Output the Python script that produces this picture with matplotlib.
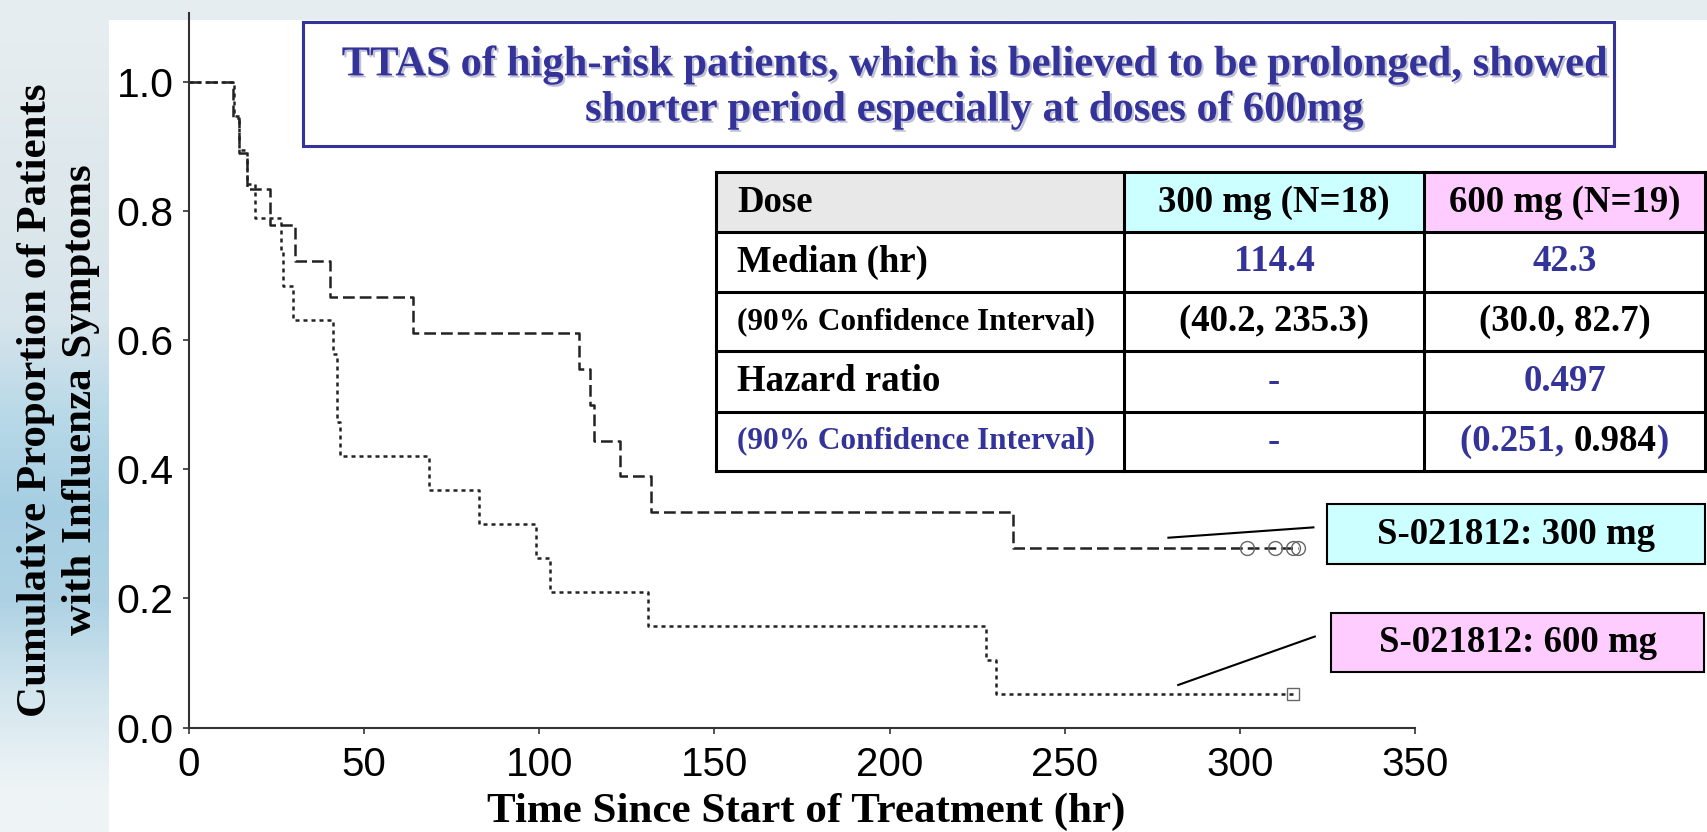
import numpy as np
import matplotlib
matplotlib.use("Agg")
import matplotlib.pyplot as plt
import matplotlib.patheffects as pe
from matplotlib.patches import Rectangle

W, H = 1708, 832
BLUE = "#333399"
SERIF = ["Liberation Serif", "DejaVu Serif"]
SANS = ["Liberation Sans", "DejaVu Sans"]

# 300 mg arm (N=18): step times [hr] and patients still symptomatic
t300 = [0, 12.7, 14.4, 16.5, 23.1, 30.3, 40.2, 64.0, 111.2, 114.4, 115.6,
        122.9, 131.8, 235.3, 316.7]
n300 = [18, 17, 16, 15, 14, 13, 12, 11, 10, 9, 8, 7, 6, 5, 5]
cens300 = [302.0, 310.0, 315.3, 316.7]

# 600 mg arm (N=19)
t600 = [0, 12.9, 14.4, 16.5, 18.8, 26.2, 26.7, 29.8, 41.2, 42.3, 42.3, 43.1,
        68.5, 82.7, 99.2, 103.2, 131.1, 227.5, 230.4, 315.3]
n600 = [19, 18, 17, 16, 15, 14, 13, 12, 11, 10, 9, 8, 7, 6, 5, 4, 3, 2, 1, 1]
cens600 = [315.3]

xticks = [0, 50, 100, 150, 200, 250, 300, 350]
yticks = [0.0, 0.2, 0.4, 0.6, 0.8, 1.0]

note = ("TTAS of high-risk patients, which is believed to be prolonged, showed\n"
        "shorter period especially at doses of 600mg")

tbl_rows = [
    ["Dose", "300 mg (N=18)", "600 mg (N=19)"],
    ["Median (hr)", "114.4", "42.3"],
    ["(90% Confidence Interval)", "(40.2, 235.3)", "(30.0, 82.7)"],
    ["Hazard ratio", "-", "0.497"],
    ["(90% Confidence Interval)", "-", None],
]
tbl_colors = [
    ["black", "black", "black"],
    ["black", BLUE, BLUE],
    ["black", "black", "black"],
    ["black", BLUE, BLUE],
    [BLUE, BLUE, None],
]
hr_ci = [("(0.251, ", BLUE), ("0.984", "black"), (")", BLUE)]


def fx(px):
    return px / W


def fy(py):
    return 1 - py / H


fig = plt.figure(figsize=(W / 100, H / 100), dpi=100)

# slide background on the left / top edge
bg = fig.add_axes([0, 0, 1, 1], zorder=-10)
bg_cols = ["#e6edf0", "#e0e9ed", "#dce7ec", "#d6e4eb", "#b8d9e8", "#a6cee2",
           "#aed2e4", "#d3e6ee", "#eef4f6"]
rgb = np.array([matplotlib.colors.to_rgb(c) for c in bg_cols])[:, None, :]
bg.imshow(rgb, aspect="auto", extent=[0, 1, 0, 1], interpolation="bilinear")
bg.axis("off")
fig.patches.append(Rectangle((fx(109), 0), 1, fy(19.5), transform=fig.transFigure,
                             facecolor="white", edgecolor="none", zorder=-5))

ax = fig.add_axes([fx(189), fy(727.6), fx(1415 - 189), (727.6 - 13) / H])
ax.set_facecolor("none")

s300 = [n / 18 for n in n300]
s600 = [n / 19 for n in n600]
ax.step(t300, s300, where="post", color="#222222", lw=1.8, dashes=(4.7, 2.0))
ax.step(t600, s600, where="post", color="#222222", lw=1.8, dashes=(1.6, 1.6))
ax.plot(cens300, [s300[-1]] * len(cens300), "o", ms=10, mfc="none", mec="#666666", mew=1)
ax.plot(cens600, [s600[-1]] * len(cens600), "s", ms=9, mfc="none", mec="#666666", mew=1)

# leader lines to the arm labels
ax.plot([279.6, 321.0], [0.294, 0.310], color="black", lw=1.5, clip_on=False)
ax.plot([282.4, 321.4], [0.066, 0.141], color="black", lw=1.5, clip_on=False)

ax.set_xlim(0, 350)
ax.set_ylim(0, 1.1064)
ax.set_xticks(xticks)
ax.set_yticks(yticks)
ax.set_yticklabels([f"{v:.1f}" for v in yticks])
for lab in ax.get_xticklabels() + ax.get_yticklabels():
    lab.set_family(SANS)
ax.tick_params(length=4, width=1.2, colors="#333333", labelcolor="black")
ax.tick_params(axis="y", pad=7, labelsize=29.5)
ax.tick_params(axis="x", pad=9, labelsize=29)
for side in ["top", "right"]:
    ax.spines[side].set_visible(False)
for side in ["left", "bottom"]:
    ax.spines[side].set_color("#333333")
    ax.spines[side].set_linewidth(1.5)

fig.text(fx(806), fy(812), "Time Since Start of Treatment (hr)", ha="center", va="center",
         fontsize=31, fontweight="bold", family=SERIF)
fig.text(fx(58.8), fy(400), "Cumulative Proportion of Patients\nwith Influenza Symptoms",
         rotation=90, ha="center", va="center", multialignment="center",
         fontsize=31, fontweight="bold", family=SERIF, linespacing=1.25)

# note box
fig.patches.append(Rectangle((fx(302.8), fy(146)), fx(1614.4 - 302.8), (146 - 21.8) / H,
                             transform=fig.transFigure, facecolor="white",
                             edgecolor=BLUE, lw=2.2, zorder=3))
fig.text(fx(974), fy(88), note, ha="center", va="center", color=BLUE, fontsize=30.7,
         fontweight="bold", family=SERIF, linespacing=1.25, zorder=4,
         path_effects=[pe.withSimplePatchShadow(offset=(1.5, -1.5), shadow_rgbFace="#9999bb",
                                                alpha=0.6)])

# table
cols_x = [715.7, 1124.2, 1423.8, 1705.5]
rows_y = [172.1, 232.0, 291.9, 350.8, 411.8, 470.6]
head_fill = ["#e8e8e8", "#ccffff", "#ffccff"]
for j, c in enumerate(head_fill):
    fig.patches.append(Rectangle((fx(cols_x[j]), fy(rows_y[1])), fx(cols_x[j + 1] - cols_x[j]),
                                 (rows_y[1] - rows_y[0]) / H, transform=fig.transFigure,
                                 facecolor=c, edgecolor="none", zorder=3))
fig.patches.append(Rectangle((fx(cols_x[0]), fy(rows_y[-1])), fx(cols_x[-1] - cols_x[0]),
                             (rows_y[-1] - rows_y[1]) / H, transform=fig.transFigure,
                             facecolor="white", edgecolor="none", zorder=3))
for y in rows_y:
    fig.add_artist(plt.Line2D([fx(cols_x[0]), fx(cols_x[-1])], [fy(y), fy(y)],
                              transform=fig.transFigure, color="black", lw=2.2, zorder=5))
for x in cols_x:
    fig.add_artist(plt.Line2D([fx(x), fx(x)], [fy(rows_y[0]), fy(rows_y[-1])],
                              transform=fig.transFigure, color="black", lw=2.2, zorder=5))

for i, row in enumerate(tbl_rows):
    yc = fy((rows_y[i] + rows_y[i + 1]) / 2)
    for j, txt in enumerate(row):
        if txt is None:
            continue
        size = 22.5 if txt.startswith("(90%") else 26.5
        if j == 0:
            fig.text(fx(737), yc, txt, ha="left", va="center", fontsize=size,
                     fontweight="bold", family=SERIF, color=tbl_colors[i][j], zorder=6)
        else:
            xc = fx((cols_x[j] + cols_x[j + 1]) / 2)
            fig.text(xc, yc, txt, ha="center", va="center", fontsize=size,
                     fontweight="bold", family=SERIF, color=tbl_colors[i][j], zorder=6)

# mixed-colour hazard ratio interval
yc = fy((rows_y[4] + rows_y[5]) / 2)
xc = fx((cols_x[2] + cols_x[3]) / 2)
full = fig.text(xc, yc, "".join(p for p, _ in hr_ci), ha="center", va="center",
                fontsize=26.5, fontweight="bold", family=SERIF, alpha=0)
renderer = fig.canvas.get_renderer()
bb = full.get_window_extent(renderer)
x = bb.x0
for part, col in hr_ci:
    t = fig.text(x / W, yc, part, ha="left", va="center", fontsize=26.5,
                 fontweight="bold", family=SERIF, color=col, zorder=6)
    x = t.get_window_extent(renderer).x1

# arm labels
arm_boxes = [
    ("S-021812: 300 mg", "#ccffff", 1326.7, 504.3, 564.2),
    ("S-021812: 600 mg", "#ffccff", 1331.0, 613.3, 672.0),
]
for txt, col, x0, y0, y1 in arm_boxes:
    fig.patches.append(Rectangle((fx(x0), fy(y1)), fx(1704.5 - x0), (y1 - y0) / H,
                                 transform=fig.transFigure, facecolor=col,
                                 edgecolor="black", lw=1.5, zorder=3))
    fig.text(fx((x0 + 1704.5) / 2), fy((y0 + y1) / 2), txt, ha="center", va="center",
             fontsize=26.5, fontweight="bold", family=SERIF, zorder=4)

fig.savefig("out.png", dpi=100)
